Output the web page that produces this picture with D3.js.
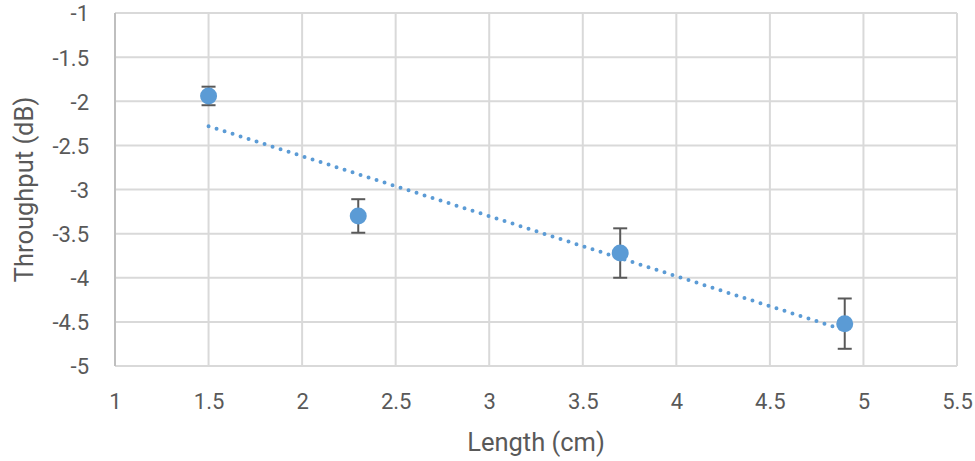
<!DOCTYPE html>
<html>
<head>
<meta charset="utf-8">
<script src="https://cdn.jsdelivr.net/npm/d3@7"></script>
<style>
  html, body { margin: 0; padding: 0; background: #fff; }
  svg { display: block; }
  text { font-family: Roboto, "Liberation Sans", sans-serif; fill: #595959; }
</style>
</head>
<body>
<svg id="chart" width="975" height="461"></svg>
<script>
// ---- data ----
const lengths = [1.5, 2.3, 3.7, 4.9];
const throughput = [-1.94, -3.30, -3.72, -4.52];
const errors = [0.105, 0.19, 0.28, 0.285];
const xTicks = [1, 1.5, 2, 2.5, 3, 3.5, 4, 4.5, 5, 5.5];
const yTicks = [-1, -1.5, -2, -2.5, -3, -3.5, -4, -4.5, -5];
const xTitle = "Length (cm)";
const yTitle = "Throughput (dB)";

// ---- layout ----
const W = 975, H = 461;
const plot = { left: 115, right: 957, top: 13, bottom: 366 };
const svg = d3.select("#chart");

const x = d3.scaleLinear().domain([1, 5.5]).range([plot.left, plot.right]);
const y = d3.scaleLinear().domain([-5, -1]).range([plot.bottom, plot.top]);

// gridlines
const grid = svg.append("g");
grid.selectAll("line.v").data(xTicks).join("line")
  .attr("x1", d => x(d)).attr("x2", d => x(d))
  .attr("y1", plot.top).attr("y2", plot.bottom)
  .attr("stroke", "#d9d9d9").attr("stroke-width", 2);
grid.selectAll("line.h").data(yTicks).join("line")
  .attr("x1", plot.left).attr("x2", plot.right)
  .attr("y1", d => y(d)).attr("y2", d => y(d))
  .attr("stroke", "#d9d9d9").attr("stroke-width", 2);
// left axis line
grid.append("line")
  .attr("x1", plot.left).attr("x2", plot.left)
  .attr("y1", plot.top).attr("y2", plot.bottom)
  .attr("stroke", "#bfbfbf").attr("stroke-width", 2);

// tick labels via axes
const xAxis = d3.axisBottom(x).tickValues(xTicks).tickSize(0).tickPadding(0)
  .tickFormat(d => String(d));
const gx = svg.append("g").attr("transform", `translate(0, ${plot.bottom})`).call(xAxis);
gx.select(".domain").remove();
gx.selectAll("text").attr("font-size", 22).attr("dy", null).attr("y", 43)
  .style("font-family", "Roboto").attr("fill", "#595959");

const yAxis = d3.axisLeft(y).tickValues(yTicks).tickSize(0).tickPadding(0)
  .tickFormat(d => String(d));
const gy = svg.append("g").attr("transform", `translate(89, 0)`).call(yAxis);
gy.select(".domain").remove();
gy.selectAll("text").attr("font-size", 22).attr("dy", "0.36em").attr("x", 0)
  .style("font-family", "Roboto").attr("fill", "#595959");

// axis titles
svg.append("text")
  .attr("x", (plot.left + plot.right) / 2).attr("y", 451)
  .attr("text-anchor", "middle").attr("font-size", 25.5)
  .text(xTitle);
svg.append("text")
  .attr("transform", `translate(33, ${(plot.top + plot.bottom) / 2}) rotate(-90)`)
  .attr("text-anchor", "middle").attr("font-size", 25.5)
  .text(yTitle);

// linear trendline (least squares)
const mx = d3.mean(lengths), my = d3.mean(throughput);
const sxy = d3.sum(lengths, (v, i) => (v - mx) * (throughput[i] - my));
const sxx = d3.sum(lengths, v => (v - mx) * (v - mx));
const slope = sxy / sxx, intercept = my - slope * mx;
const trendX = d3.extent(lengths);
svg.append("path")
  .datum(trendX)
  .attr("d", d3.line().x(d => x(d)).y(d => y(intercept + slope * d)))
  .attr("fill", "none").attr("stroke", "#5b9bd5").attr("stroke-width", 4)
  .attr("stroke-linecap", "round").attr("stroke-dasharray", "0 8.4");

// error bars
const data = lengths.map((v, i) => ({ x: v, y: throughput[i], e: errors[i] }));
const eb = svg.append("g").attr("stroke", "#595959").attr("stroke-width", 2);
eb.selectAll("line.s").data(data).join("line")
  .attr("x1", d => x(d.x)).attr("x2", d => x(d.x))
  .attr("y1", d => y(d.y + d.e)).attr("y2", d => y(d.y - d.e));
eb.selectAll("line.t").data(data).join("line")
  .attr("x1", d => x(d.x) - 7).attr("x2", d => x(d.x) + 7)
  .attr("y1", d => y(d.y + d.e)).attr("y2", d => y(d.y + d.e));
eb.selectAll("line.b").data(data).join("line")
  .attr("x1", d => x(d.x) - 7).attr("x2", d => x(d.x) + 7)
  .attr("y1", d => y(d.y - d.e)).attr("y2", d => y(d.y - d.e));

// points
svg.append("g").selectAll("circle").data(data).join("circle")
  .attr("cx", d => x(d.x)).attr("cy", d => y(d.y)).attr("r", 8.5)
  .attr("fill", "#5b9bd5");
</script>
</body>
</html>
